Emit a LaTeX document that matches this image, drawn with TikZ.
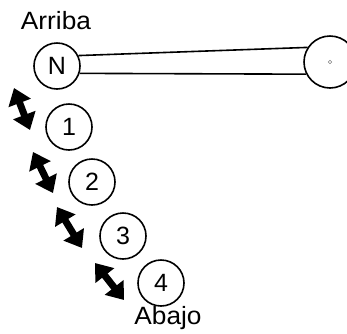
\documentclass[tikz,border=0pt]{standalone}
\usepackage{fontspec}
\setmainfont{Liberation Sans}
\usetikzlibrary{arrows.meta}

\begin{document}
\begin{tikzpicture}[x=1pt,y=-1pt,
	spot/.style={circle,draw,line width=1.6pt,minimum size=46pt,inner sep=0pt,font=\fontsize{25}{25}\selectfont},
	tagtext/.style={draw=none,font=\fontsize{25}{25}\selectfont,xscale=1.05},
	shiftarrow/.style={line width=7pt,{Triangle[width=23pt,length=16pt]}-{Triangle[width=23pt,length=16pt]}}]
	\useasboundingbox (0,0) rectangle (347,333);
	
	\node (up)[tagtext] at (56,21) {Arriba};
 	\node (N)[spot] at (57,66) {N};
 	\node (P1)[spot] at (69,127) {1};
 	\node (P2)[spot] at (92,182) {2};
 	\node (P3)[spot] at (123,236) {3};
 	\node (P4)[spot] at (161,283) {4};
 	\node (down)[tagtext] at (168,318) {Abajo};
 	\node (W)[spot,minimum size=52pt] at (330,62) {};
 	\draw[line width=0.6pt,gray] (W.center) circle (1.8);
 	
 	% bar
 	\draw[line width=1.6pt] (N.26) -- (W.147);
 	\draw[line width=1.6pt] (N.-18) -- (W.207);
 	
 	% arrows
 	\coordinate (a0) at (14,88);   \coordinate (b0) at (30,130);
 	\coordinate (a1) at (33,152);  \coordinate (b1) at (53,193);
 	\coordinate (a2) at (57,207);  \coordinate (b2) at (82,248);
 	\coordinate (a3) at (95,263);  \coordinate (b3) at (124,300);
 	\draw[shiftarrow] (a0) -- (b0);
 	\draw[shiftarrow] (a1) -- (b1);
 	\draw[shiftarrow] (a2) -- (b2);
 	\draw[shiftarrow] (a3) -- (b3);
 	
\end{tikzpicture}
\end{document}
